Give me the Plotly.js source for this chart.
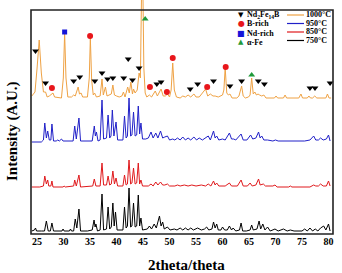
<!DOCTYPE html>
<html>
<head>
<meta charset="utf-8">
<script src="https://cdn.plot.ly/plotly-3.0.1.min.js"></script>
<style>
  html, body { margin: 0; padding: 0; background: #fff; }
  #chart { width: 342px; height: 273px; }
</style>
</head>
<body>
<div id="chart"></div>
<script>
// XRD patterns: [2theta, intensity above the pattern's own baseline]
const pattern750 = [[24.0,1],[24.5,2],[24.7,4],[24.9,1],[25.8,1],[26.4,1],[26.75,11],[27.1,1],[27.5,1],[27.8,9],[28.1,1],[29.0,1],[29.7,1],[29.9,3],[30.1,1],[31.1,1],[31.3,3],[31.5,1],[31.9,1],[32.2,13],[32.5,4],[32.9,23],[33.2,1],[34.5,1],[35.4,2],[35.75,12],[35.95,5],[36.1,8],[36.4,1],[36.9,2],[37.25,38],[37.55,2],[38.1,3],[38.4,25],[38.7,3],[39.0,5],[39.3,29],[39.55,6],[39.8,20],[40.1,2],[41.2,2],[41.5,25],[41.8,4],[42.05,6],[42.35,44],[42.65,5],[42.9,6],[43.2,29],[43.5,5],[43.8,6],[44.1,37],[44.35,6],[44.6,14],[44.9,2],[45.8,3],[46.2,6],[46.6,3],[47.1,8],[47.5,4],[48.1,16],[48.4,6],[48.7,10],[49.0,3],[49.6,5],[50.1,2],[50.9,3],[51.4,2],[52.0,4],[52.5,2],[53.0,4],[53.5,2],[54.0,4],[54.5,2],[55.3,4],[56.0,2],[56.6,3],[57.0,5],[57.4,2],[58.0,3],[58.3,10],[58.6,4],[58.9,8],[59.2,2],[59.7,2],[60.0,5],[60.4,2],[60.9,2],[61.3,6],[61.7,2],[62.0,4],[62.5,1],[63.2,2],[63.5,9],[63.8,1],[64.5,1],[65.2,2],[65.5,7],[65.8,2],[66.5,3],[66.9,11],[67.2,3],[67.6,8],[68.0,2],[68.5,5],[69.0,1],[69.9,3],[70.5,1],[71.5,3],[72.2,1],[72.8,2],[73.5,1],[75.0,1],[75.5,3],[76.0,1],[76.5,4],[77.0,1],[77.5,3],[78.0,1],[78.5,4],[79.1,6],[79.5,2],[80.0,8],[80.3,1]];

const pattern850 = [[24.0,0],[25.5,0],[26.2,1],[26.45,11],[26.75,3],[27.0,7],[27.2,1],[27.6,1],[27.8,6],[28.0,0],[29.9,0],[30.1,1],[30.3,0],[31.9,1],[32.1,7],[32.4,1],[32.9,12],[33.2,0],[35.5,1],[35.8,8],[36.1,1],[36.9,1],[37.25,24],[37.55,2],[38.1,2],[38.4,11],[38.7,2],[39.0,3],[39.3,16],[39.6,3],[39.9,9],[40.2,1],[41.2,1],[41.5,12],[41.8,2],[42.05,3],[42.35,27],[42.65,3],[42.9,4],[43.2,19],[43.5,3],[43.8,4],[44.1,24],[44.35,3],[44.6,7],[44.9,1],[46.0,1],[46.5,3],[46.9,1],[47.4,5],[47.8,2],[48.3,5],[48.7,2],[49.1,2],[49.6,3],[50.0,1],[51.0,1],[51.5,2],[52.0,1],[52.8,2],[53.5,1],[54.2,2],[55.0,1],[56.0,2],[56.8,1],[57.3,3],[57.8,1],[58.3,6],[58.6,2],[58.9,4],[59.3,1],[60.5,1],[61.3,4],[61.7,1],[62.8,1],[63.5,7],[63.9,1],[64.7,1],[65.2,4],[65.6,1],[66.3,2],[66.8,8],[67.1,2],[67.7,3],[68.1,1],[69.5,1],[69.9,2],[70.3,0],[72.5,0],[72.8,1],[73.1,0],[76.5,0],[77.2,2],[77.6,1],[78.1,1],[78.5,3],[79.0,1],[79.6,1],[80.0,6],[80.3,1]];

const pattern950 = [[24.0,0],[25.8,0],[26.2,2],[26.45,19],[26.75,4],[27.0,11],[27.3,2],[27.6,2],[27.8,18],[28.1,1],[28.6,1],[28.9,2],[29.2,1],[29.6,3],[29.9,1],[31.8,1],[32.1,16],[32.4,3],[32.9,24],[33.2,1],[35.4,1],[35.8,16],[36.0,6],[36.2,10],[36.5,1],[36.9,2],[37.25,42],[37.55,3],[38.1,4],[38.4,27],[38.7,4],[38.95,6],[39.2,32],[39.5,6],[39.9,20],[40.2,2],[41.2,2],[41.5,26],[41.8,4],[42.05,6],[42.35,44],[42.65,6],[42.9,7],[43.2,30],[43.5,6],[43.8,7],[44.1,36],[44.35,8],[44.6,19],[44.9,3],[45.5,3],[46.0,4],[46.5,10],[46.9,4],[47.4,9],[47.8,4],[48.3,11],[48.7,4],[49.1,5],[49.6,6],[50.0,2],[50.6,3],[51.0,2],[51.5,4],[52.0,2],[52.5,5],[53.0,2],[53.5,4],[54.0,2],[54.6,5],[55.1,2],[55.6,4],[56.2,2],[56.8,4],[57.3,6],[57.7,2],[58.3,11],[58.6,4],[58.9,6],[59.3,2],[60.0,3],[60.5,2],[61.3,9],[61.7,3],[62.1,3],[62.5,2],[63.5,8],[63.9,2],[64.6,2],[65.3,7],[65.7,3],[66.3,4],[66.8,10],[67.1,4],[67.4,6],[67.8,2],[68.5,2],[69.5,1],[70.0,2],[70.5,1],[72.0,1],[72.8,1],[74.0,1],[75.5,1],[76.5,2],[77.2,6],[77.6,2],[78.1,2],[78.5,4],[79.0,2],[79.6,3],[80.0,7],[80.3,1]];

const pattern1000 = [[24.0,2],[24.6,6],[25.0,30],[25.4,58],[25.8,25],[26.2,6],[26.6,6],[26.9,1],[27.3,2],[27.7,4],[28.0,5],[28.3,1],[29.6,0],[29.95,20],[30.2,65],[30.45,20],[30.8,1],[31.5,1],[31.9,3],[32.2,2],[32.75,11],[33.0,4],[33.3,5],[33.6,1],[34.5,1],[34.85,20],[35.05,60],[35.3,18],[35.6,3],[35.85,5],[36.2,1],[36.9,2],[37.25,19],[37.5,3],[37.9,11],[38.2,2],[38.6,3],[39.0,4],[39.3,13],[39.6,3],[40.0,2],[40.5,1],[41.0,2],[41.3,6],[41.6,1],[42.1,11],[42.4,5],[42.7,16],[43.0,4],[43.2,9],[43.5,5],[43.9,8],[44.25,25],[44.5,20],[44.85,160],[45.15,30],[45.4,5],[45.7,1],[46.2,3],[46.6,1],[47.3,7],[47.7,2],[48.4,9],[48.8,2],[49.2,2],[49.6,4],[50.0,1],[50.3,8],[50.6,35],[50.9,8],[51.3,1],[52.0,0],[52.5,2],[53.0,1],[53.5,3],[54.0,1],[54.6,4],[55.0,1],[55.6,1],[56.1,4],[56.8,9],[57.2,2],[57.7,4],[58.2,2],[58.6,2],[59.2,1],[60.0,3],[60.25,8],[60.5,30],[60.8,5],[61.1,3],[61.4,4],[61.8,0],[62.7,0],[63.1,2],[63.6,12],[63.9,2],[64.3,0],[64.9,1],[65.2,3],[65.5,20],[65.8,4],[66.1,6],[66.4,3],[66.7,4],[67.0,3],[67.4,2],[67.8,3],[68.2,0],[69.8,0],[70.1,2],[70.4,0],[71.5,0],[71.8,3],[72.1,0],[74.4,0],[74.8,4],[75.1,0],[76.0,0],[76.3,2],[76.6,0],[77.0,0],[77.4,2],[77.8,0],[79.5,0],[79.8,4],[80.1,0],[80.5,0]];

// Phase markers above the 1000°C pattern: 2theta and stacked height
const ndFeBTheta = [24.7,26.6,31.9,33.05,35.9,37.25,38.3,39.3,41.35,42.2,43.0,44.25,47.6,48.4,53.9,55.3,58.3,61.4,63.6,66.75,67.9,76.5,77.45,80.3];
const ndFeBY     = [183,151,153,157,153,161,155,156,156,175,154,166,150,152,145,150,153,148,153,153,150,146,146,151];
const bRichTheta = [27.8,35.0,46.3,49.5,50.6,57.1,60.6];
const bRichY     = [146,198,147,142,176,147,167];
const ndRichTheta = [30.2];
const ndRichY     = [202];
const alphaFeTheta = [45.4,65.5];
const alphaFeY     = [215,159];

const xTicks = [25,30,35,40,45,50,55,60,65,70,75,80];

// stacking offsets and colours for each anneal temperature
const series = [
  {name: '1000°C', data: pattern1000, offset: 136, color: '#EFA244'},
  {name: '950°C',  data: pattern950,  offset: 92,  color: '#2020C8'},
  {name: '850°C',  data: pattern850,  offset: 47,  color: '#E0191C'},
  {name: '750°C',  data: pattern750,  offset: 2,   color: '#000000'}
];

const traces = series.map(s => ({
  type: 'scatter', mode: 'lines', name: s.name,
  x: s.data.map(d => d[0]),
  y: s.data.map(d => d[1] + s.offset),
  line: {color: s.color, width: 1}, showlegend: false, hoverinfo: 'skip'
}));

function markerTrace(xs, ys, symbol, color, size) {
  return {type: 'scatter', mode: 'markers', x: xs, y: ys, showlegend: false,
    marker: {symbol: symbol, color: color, size: size, line: {width: 0}}, cliponaxis: false};
}
traces.push(markerTrace(ndFeBTheta, ndFeBY, 'triangle-down', '#000', 6));
traces.push(markerTrace(bRichTheta, bRichY, 'circle', '#E8161B', 6));
traces.push(markerTrace(ndRichTheta, ndRichY, 'square', '#1515D8', 5));
traces.push(markerTrace(alphaFeTheta, alphaFeY, 'triangle-up', '#1E9A3A', 6));

// page pixel -> paper coordinates (plot area: x 31..333, y 0..234)
const L = 31, W = 302, H = 234;
const px = v => (v - L) / W;
const py = v => (H - v) / H;

const serif = 'Liberation Serif, Times New Roman, serif';
const legFont = {family: serif, size: 8, color: '#000'};

// key for the phase symbols (left column) and the temperatures (right column)
const symRows = [
  {sym: '▼', color: '#000',    size: 7, text: '<b>Nd<sub>2</sub>Fe<sub>14</sub>B</b>', y: 15},
  {sym: '●', color: '#E8161B', size: 8, text: '<b>B-rich</b>',  y: 24},
  {sym: '■', color: '#1515D8', size: 8, text: '<b>Nd-rich</b>', y: 33},
  {sym: '▲', color: '#1E9A3A', size: 7, text: '<b>α-Fe</b>',    y: 42}
];
const lineRows = [15, 23.5, 32, 40.5];

const annotations = [];
const shapes = [];
symRows.forEach(r => {
  annotations.push({xref: 'paper', yref: 'paper', x: px(241), y: py(r.y), text: r.sym,
    showarrow: false, font: {family: 'DejaVu Sans', size: r.size, color: r.color}, xanchor: 'center', yanchor: 'middle'});
  annotations.push({xref: 'paper', yref: 'paper', x: px(245), y: py(r.y), text: r.text,
    showarrow: false, font: legFont, xanchor: 'left', yanchor: 'middle'});
});
series.forEach((s, i) => {
  shapes.push({type: 'line', xref: 'paper', yref: 'paper', x0: px(287), x1: px(304),
    y0: py(lineRows[i]), y1: py(lineRows[i]), line: {color: s.color, width: 1.2}});
  annotations.push({xref: 'paper', yref: 'paper', x: px(304), y: py(lineRows[i]), text: '<b>' + s.name + '</b>',
    showarrow: false, font: legFont, xanchor: 'left', yanchor: 'middle'});
});

// axis titles
annotations.push({xref: 'paper', yref: 'paper', x: px(12), y: py(131), text: '<b>Intensity (A.U.)</b>',
  textangle: -90, showarrow: false, font: {family: serif, size: 15, color: '#000'}, xanchor: 'center', yanchor: 'middle'});
annotations.push({xref: 'paper', yref: 'paper', x: px(186), y: py(265), text: '<b>2theta/theta</b>',
  showarrow: false, font: {family: serif, size: 15, color: '#000'}, xanchor: 'center', yanchor: 'middle'});

// frame
shapes.push({type: 'rect', xref: 'paper', yref: 'paper', x0: 0, x1: 1, y0: 0, y1: py(10),
  line: {color: '#222', width: 1.6}, fillcolor: 'rgba(0,0,0,0)'});

const layout = {
  width: 342, height: 273,
  margin: {l: L, r: 9, t: 0, b: 39},
  paper_bgcolor: '#fff', plot_bgcolor: '#fff',
  showlegend: false,
  xaxis: {range: [23.85, 80.85], tickvals: xTicks, ticktext: xTicks.map(t => '<b>' + t + '</b>'),
    showgrid: false, zeroline: false, showline: false, ticks: '',
    tickfont: {family: serif, size: 10, color: '#000'}, fixedrange: true},
  yaxis: {range: [0, H], showticklabels: false, showgrid: false, zeroline: false, showline: false,
    ticks: '', fixedrange: true},
  shapes: shapes,
  annotations: annotations
};

Plotly.newPlot('chart', traces, layout, {staticPlot: true, displayModeBar: false});
</script>
</body>
</html>
